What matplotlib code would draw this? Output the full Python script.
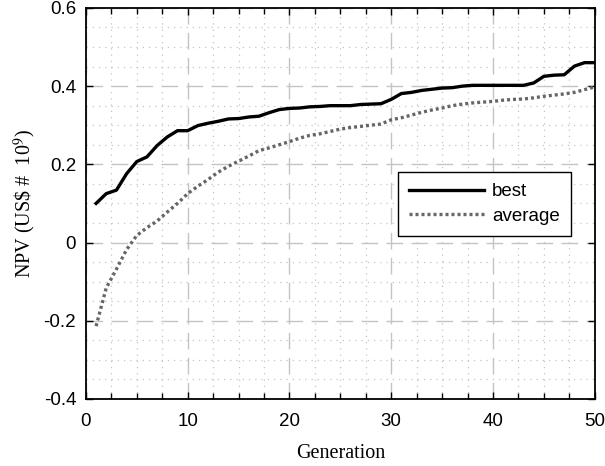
import numpy as np
from matplotlib import pyplot as plt
from matplotlib.ticker import MultipleLocator

generation = np.arange(1, 51)

best = [0.100, 0.125, 0.134, 0.176, 0.207, 0.219, 0.248, 0.270, 0.286, 0.286,
        0.299, 0.305, 0.310, 0.316, 0.317, 0.321, 0.323, 0.332, 0.340, 0.343,
        0.344, 0.347, 0.348, 0.350, 0.350, 0.350, 0.353, 0.354, 0.355, 0.366,
        0.381, 0.384, 0.389, 0.392, 0.395, 0.396, 0.400, 0.402, 0.402, 0.402,
        0.402, 0.402, 0.402, 0.408, 0.425, 0.428, 0.429, 0.451, 0.460, 0.460]

average = [-0.214, -0.116, -0.068, -0.018, 0.018, 0.038, 0.055, 0.078, 0.100, 0.125,
           0.144, 0.161, 0.180, 0.195, 0.208, 0.221, 0.235, 0.242, 0.250, 0.258,
           0.267, 0.274, 0.278, 0.284, 0.290, 0.294, 0.297, 0.300, 0.303, 0.314,
           0.319, 0.326, 0.333, 0.339, 0.344, 0.350, 0.354, 0.357, 0.359, 0.361,
           0.364, 0.366, 0.367, 0.370, 0.374, 0.377, 0.380, 0.384, 0.391, 0.398]

plt.rcParams["font.family"] = ["Liberation Sans", "DejaVu Sans"]
plt.rcParams["mathtext.fontset"] = "stix"

fig = plt.figure(figsize=(6.05, 4.66), dpi=100)
ax = fig.add_axes([0.142, 0.144, 0.841, 0.839])

# grid first so the curves sit on top
ax.set_xlim(0, 50)
ax.set_ylim(-0.4, 0.6)
ax.xaxis.set_major_locator(MultipleLocator(10))
ax.xaxis.set_minor_locator(MultipleLocator(2.5))
ax.yaxis.set_major_locator(MultipleLocator(0.2))
ax.yaxis.set_minor_locator(MultipleLocator(0.05))
ax.grid(True, which="major", color="#c4c4c4", linewidth=1.0, linestyle=(0, (12, 6)))
ax.grid(True, which="minor", color="#c4c4c4", linewidth=0.9, linestyle=(0, (1, 4)))
ax.set_axisbelow(True)

ax.plot(generation, best, color="black", linewidth=2.4, label="best")
ax.plot(generation, average, color="#666666", linewidth=2.4,
        linestyle=(0, (0.9, 0.9)), label="average")

ax.tick_params(which="both", direction="in", top=True, right=True,
               labelsize=13.5, color="black", width=1.0, pad=7)
ax.tick_params(axis="x", which="both", pad=10)
ax.tick_params(which="major", length=5)
ax.tick_params(axis="x", which="minor", length=4)
ax.tick_params(axis="y", which="minor", length=0)
ax.set_yticks([-0.4, -0.2, 0, 0.2, 0.4, 0.6])
ax.set_yticklabels(["-0.4", "-0.2", "0", "0.2", "0.4", "0.6"])
for s in ax.spines.values():
    s.set_linewidth(1.3)

ax.set_xlabel("Generation", family="Liberation Serif", fontsize=14.5, labelpad=10)
ax.set_ylabel("NPV (US\\$ #  10$^{9}$)", family="Liberation Serif", fontsize=14.5,
              labelpad=4)

leg = ax.legend(loc="upper right", bbox_to_anchor=(0.953, 0.581), fontsize=13.5,
                fancybox=False, framealpha=1, edgecolor="black",
                handlelength=4.0, handletextpad=0.4, borderpad=0.6,
                labelspacing=0.4, borderaxespad=0)
leg.get_frame().set_linewidth(1.0)

plt.savefig("out.png", dpi=100)
